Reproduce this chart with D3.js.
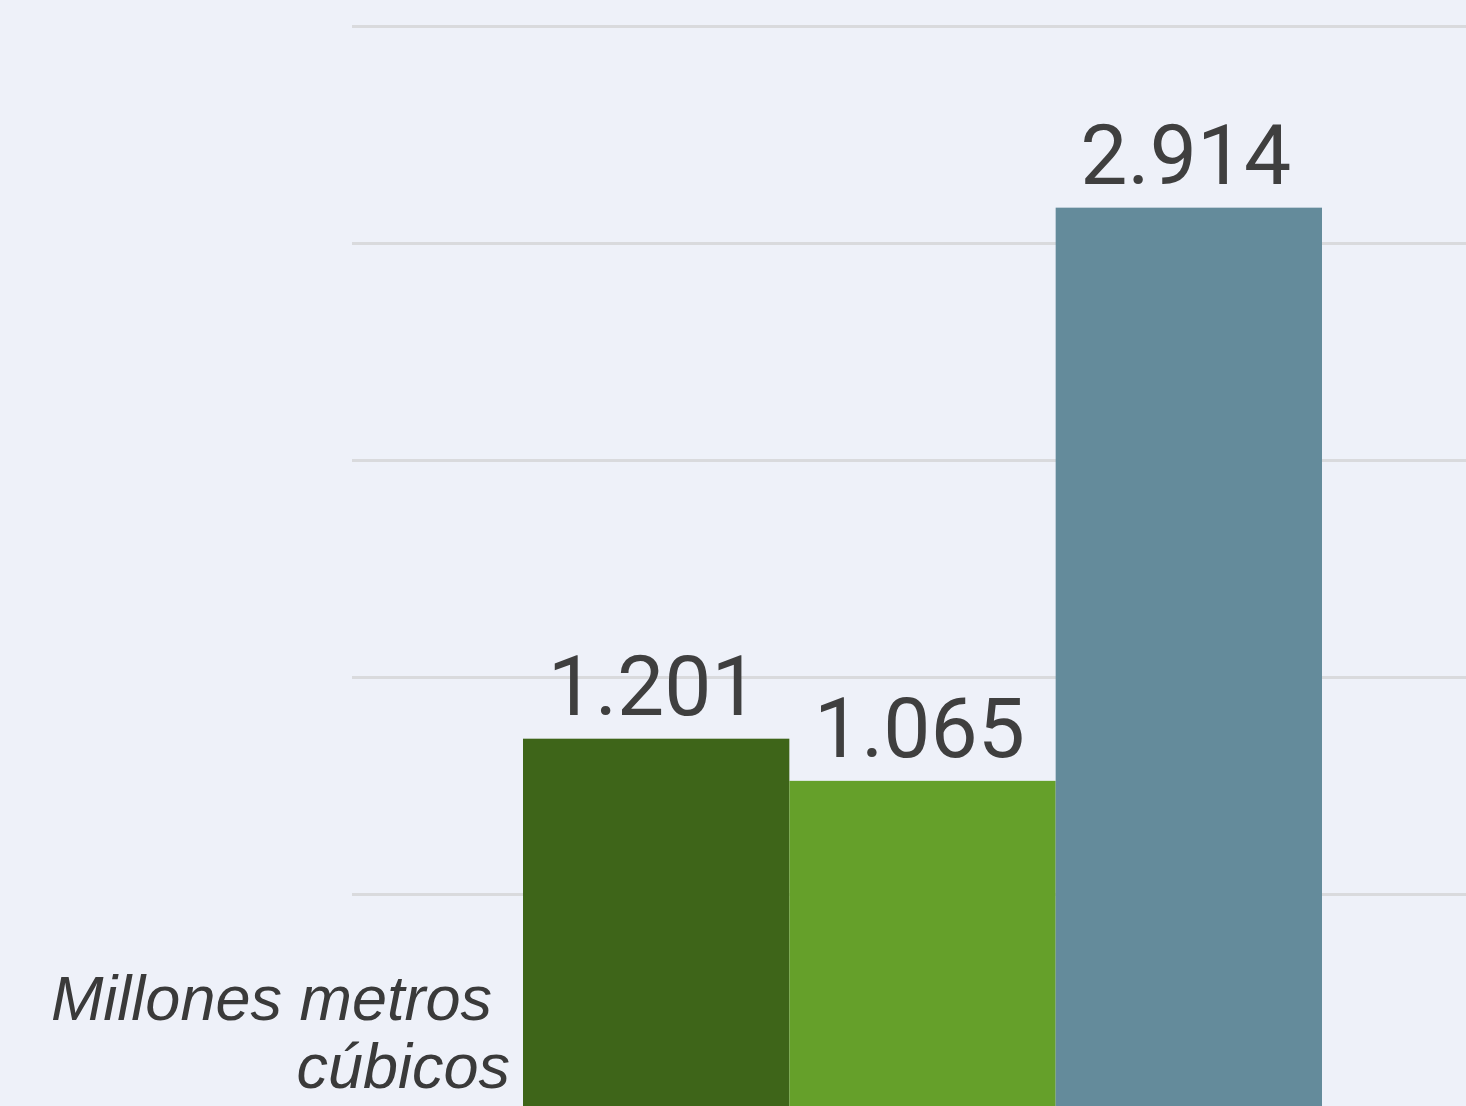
<!DOCTYPE html>
<html>
<head>
<meta charset="utf-8">
<script src="https://cdn.jsdelivr.net/npm/d3@7"></script>
<style>
html,body{margin:0;padding:0;background:#eef1f9;overflow:hidden}
svg{display:block}
</style>
</head>
<body>
<svg id="chart" width="1466" height="1106"></svg>
<script>
const categories = ["A", "B", "C"];
const values = [1201, 1065, 2914];
const colors = ["#3e6519", "#65a02a", "#648b9b"];
const gridTicks = [700, 1400, 2100, 2800, 3500];
const axisTitle = ["Millones metros", "cúbicos"];

const W = 1466, H = 1106;
const svg = d3.select("#chart");
svg.append("rect").attr("width", W).attr("height", H).attr("fill", "#eef1f9");

const y = d3.scaleLinear().domain([0, 3500]).range([1111, 26]);
const x = d3.scaleBand().domain(categories).range([523, 1322]).padding(0);

const fmt = v => d3.formatLocale({decimal: ",", thousands: ".", grouping: [3]}).format(",")(v);

// gridlines
const gridAxis = d3.axisLeft(y).tickValues(gridTicks).tickSize(-(W - 352)).tickFormat("");
const g = svg.append("g").attr("transform", "translate(352,0)").call(gridAxis);
g.select(".domain").remove();
g.selectAll(".tick line").attr("stroke", "#d9dadd").attr("stroke-width", 3);

// bars
svg.selectAll("rect.bar").data(values).enter().append("rect")
  .attr("class", "bar")
  .attr("x", (d, i) => x(categories[i]))
  .attr("width", x.bandwidth())
  .attr("y", d => y(d))
  .attr("height", d => y(0) - y(d))
  .attr("fill", (d, i) => colors[i]);

// value labels
svg.selectAll("text.val").data(values).enter().append("text")
  .attr("class", "val")
  .attr("x", (d, i) => x(categories[i]) + x.bandwidth() / 2 - 3)
  .attr("y", d => y(d) - 24)
  .attr("text-anchor", "middle")
  .attr("font-family", "Roboto")
  .attr("font-size", 84)
  .attr("fill", "#3f3f3f")
  .text(d => fmt(d));

// axis title
const t = svg.append("text")
  .attr("font-family", "Liberation Sans, Arial, sans-serif")
  .attr("font-style", "italic")
  .attr("font-size", 63)
  .attr("fill", "#3a3a3a")
  .attr("text-anchor", "end");
t.append("tspan").attr("x", 492).attr("y", 1020).text(axisTitle[0]);
t.append("tspan").attr("x", 510).attr("y", 1088).text(axisTitle[1]);
</script>
</body>
</html>
